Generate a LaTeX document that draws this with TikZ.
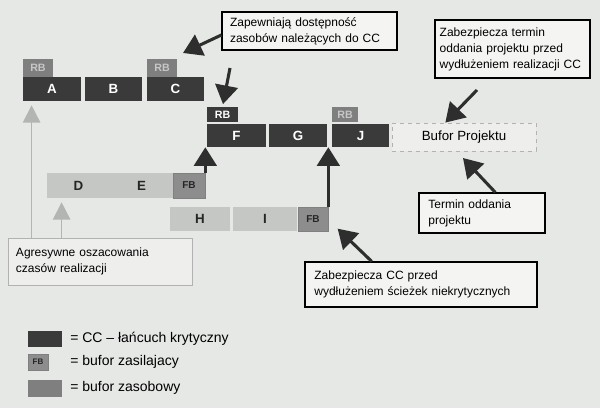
\documentclass[tikz,border=0pt]{standalone}
\usepackage{fontspec}
\setmainfont{Liberation Sans}
\usetikzlibrary{arrows.meta,shapes}
\definecolor{scan}{HTML}{E5E8E5}
\definecolor{ccdark}{HTML}{3A3A3A}
\definecolor{rbgray}{HTML}{7E7F7E}
\definecolor{taskgray}{HTML}{C4C7C4}
\definecolor{fbgray}{HTML}{8C8D8C}
\definecolor{boxfill}{HTML}{F4F4F2}
\definecolor{pale}{HTML}{B2B5B2}
\tikzset{
  ccnode/.style   = {shape=rectangle, fill=ccdark, text=white,
                     font=\fontsize{10}{12}\selectfont\bfseries,
                     minimum height=18pt, inner sep=0pt, anchor=center},
  rbnode/.style   = {ccnode, fill=rbgray, text=black!22,
                     font=\fontsize{8}{9}\selectfont\bfseries, minimum height=13.5pt},
  rbdark/.style   = {rbnode, fill=ccdark, text=white, minimum height=11.25pt},
  feeder/.style   = {shape=rectangle, fill=taskgray, text=black!85,
                     font=\fontsize{10}{12}\selectfont\bfseries,
                     minimum height=18.75pt, inner sep=0pt, anchor=center},
  fbnode/.style   = {feeder, fill=fbgray, draw=black!50, line width=0.5pt,
                     font=\fontsize{7.5}{9}\selectfont\bfseries},
  note/.style     = {shape=rectangle, draw=black, line width=0.9pt, fill=boxfill,
                     align=left, font=\fontsize{9}{12}\selectfont,
                     inner ysep=3pt, anchor=center},
  softnote/.style = {note, draw=black!30, line width=0.6pt, fill=boxfill!60!scan},
  pbuffer/.style  = {shape=rectangle, draw=black!30, dashed, line width=0.6pt,
                     fill=boxfill!60!scan, font=\fontsize{10}{12}\selectfont,
                     minimum width=108pt, minimum height=21pt},
  bigarrow/.style = {draw, color=black!82, line width=2.3pt,
                     -{Triangle[width=17pt,length=14pt]}},
  palearrow/.style= {draw, color=pale, line width=1.3pt,
                     -{Triangle[width=13pt,length=13pt]}},
  legend/.style   = {font=\fontsize{10.5}{12}\selectfont, anchor=west, inner sep=0pt}
}

\begin{document}
\begin{tikzpicture}[x=0.75pt, y=-0.75pt]
  \fill[scan] (0,0) rectangle (600,408);
  \useasboundingbox (0,0) rectangle (600,408);

  % critical chain
  \node[ccnode, minimum width=43.5pt]  (a) at (52,89)    {A};
  \node[ccnode, minimum width=42.75pt] (b) at (113.5,89) {B};
  \node[ccnode, minimum width=42.75pt] (c) at (175.5,89) {C};
  \node[rbnode, minimum width=22.5pt]  (rba) at (38,68)  {RB};
  \node[rbnode, minimum width=22.5pt]  (rbc) at (162,68) {RB};
  \node[ccnode, minimum width=44.25pt, minimum height=17.25pt] (f) at (236.5,135.5) {F};
  \node[ccnode, minimum width=43.5pt,  minimum height=17.25pt] (g) at (298,135.5)   {G};
  \node[ccnode, minimum width=42.75pt, minimum height=17.25pt] (j) at (360.5,135.5) {J};
  \node[rbdark, minimum width=23.25pt] (rbf) at (222.5,114.5) {RB};
  \node[rbnode, minimum width=19.5pt, minimum height=11.25pt] (rbj) at (345,114.5) {RB};
  \node[pbuffer] (bufor) at (464,137) {Bufor Projektu};

  % feeding chains
  \node[feeder, minimum width=47.25pt] (d) at (78.5,185.5)  {D};
  \node[feeder, minimum width=47.25pt] (e) at (141.5,185.5) {E};
  \node[fbnode, minimum width=24pt]    (fb1) at (189,185.5) {FB};
  \node[feeder, minimum width=45pt, minimum height=18pt] (h) at (200,219) {H};
  \node[feeder, minimum width=48pt, minimum height=18pt] (i) at (265,219) {I};
  \node[fbnode, minimum width=22.5pt, minimum height=18pt] (fb2) at (313,219) {FB};

  % notes
  \node[note, inner xsep=6pt, text width=119.25pt, minimum height=28.5pt] (zap) at (309.5,31)
    {Zapewniają dostępność\\zasobów należących do CC};
  \node[note, inner xsep=3.5pt, text width=109.25pt, minimum height=43.5pt] (zabt) at (512.5,49)
    {Zabezpiecza termin\\oddania projektu przed\\wydłużeniem realizacji CC};
  \node[note, inner xsep=7pt, text width=80.5pt, minimum height=30pt] (term) at (482,213)
    {Termin oddania\\projektu};
  \node[note, inner xsep=7pt, text width=160pt, minimum height=33.75pt] (zabcc) at (421,284.5)
    {Zabezpiecza CC przed\\wydłużeniem ścieżek niekrytycznych};
  \node[softnote, inner xsep=6pt, text width=126pt, minimum height=35.25pt] (agr) at (100,261.5)
    {Agresywne oszacowania\\czasów realizacji};

  \coordinate (rbtip)  at (183,53);
  \coordinate (ftail)  at (230,68);
  \coordinate (bptail) at (477,90);
  \coordinate (bptip)  at (463,158);

  \path
    ([yshift=-3pt]zap.west) edge[bigarrow] (rbtip)
    (ftail) edge[bigarrow, shorten >=2pt] (rbf.north)
    (fb1.north east) edge[bigarrow] (fb1.north east |- f.south)
    (fb2.north east) edge[bigarrow] (fb2.north east |- j.south)
    (bptail) edge[bigarrow] ([xshift=-14pt]bufor.north)
    ([xshift=10pt]term.north) edge[bigarrow] (bptip)
    ([xshift=-37pt]zabcc.north) edge[bigarrow] ([shift={(7pt,2pt)}]fb2.south east);
  \path
    ([xshift=18pt]agr.north west) edge[palearrow, shorten >=3pt] ([xshift=18pt]agr.north west |- a.south)
    ([xshift=40.5pt]agr.north west) edge[palearrow, shorten >=3pt] ([xshift=40.5pt]agr.north west |- d.south);

  % legend
  \node[ccnode, minimum width=25.5pt, minimum height=12pt] (lgcc) at (45,339) {};
  \node[fbnode, minimum width=15pt, minimum height=12pt,
        font=\fontsize{6}{7}\selectfont\bfseries] (lgfb) at (38,362) {FB};
  \node[rbnode, minimum width=25.5pt, minimum height=12.75pt] (lgrb) at (45,388) {};
  \node[legend] (lgcctxt) at (70,339) {= CC – łańcuch krytyczny};
  \node[legend] (lgfbtxt) at (70,362) {= bufor zasilajacy};
  \node[legend] (lgrbtxt) at (70,388) {= bufor zasobowy};
\end{tikzpicture}
\end{document}
